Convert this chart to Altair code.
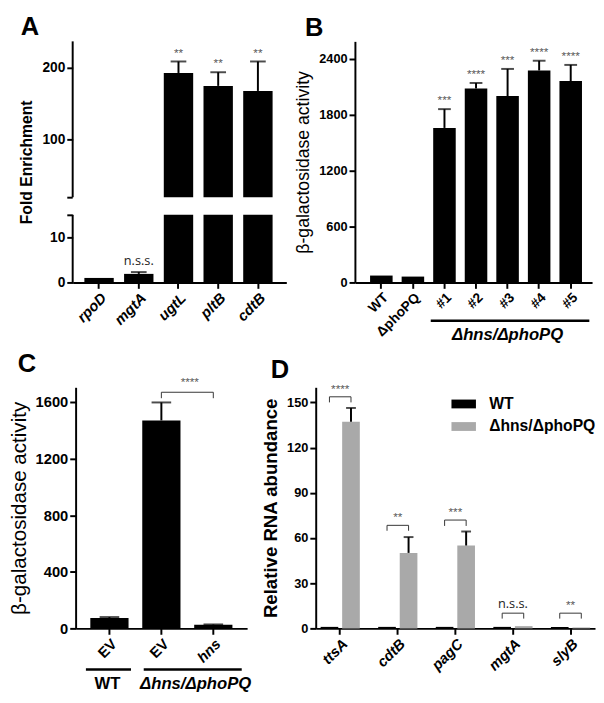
import altair as alt
import pandas as pd

FONT = "Liberation Sans"

# ---------------- Panel A: ChIP fold enrichment (broken axis) ----------------
a_genes = ["rpoD", "mgtA", "ugtL", "pltB", "cdtB"]
a_mean = [1.0, 1.9, 193, 175, 168]
a_upper = [1.0, 2.3, 209, 194, 209]
a_sig = ["", "n.s.s.", "**", "**", "**"]
a_ticks = [0, 10, 15, 20, 100, 200]
a_domain = [0, 15, 20, 237]          # lower segment 0-15, upper segment 20-237
a_seg_lo = [0, 20]
a_seg_hi = [15, 237]

# ---------------- Panel B: beta-gal, suppressor isolates ----------------
b_strains = ["WT", "ΔphoPQ", "#1", "#2", "#3", "#4", "#5"]
b_mean = [74, 63, 1660, 2084, 2003, 2277, 2164]
b_upper = [74, 63, 1862, 2143, 2294, 2382, 2337]
b_sig = ["", "", "***", "****", "***", "****", "****"]
b_ticks = [0, 600, 1200, 1800, 2400]
b_max = 2590
b_group = ["#1", "#5", "#3"]
b_group_label = "Δhns/ΔphoPQ"

# ---------------- Panel C: complementation ----------------
c_keys = ["WT_EV", "DD_EV", "DD_hns"]
c_labels = ["EV", "EV", "hns"]
c_mean = [74, 1470, 25]
c_upper = [80, 1597, 28]
c_ticks = [0, 400, 800, 1200, 1600]
c_max = 1704
c_br_level = 1669
c_br_arm = 1627
c_sig = "****"
c_group_names = ["WT", "Δhns/ΔphoPQ"]

# ---------------- Panel D: qRT-PCR ----------------
d_genes = ["ttsA", "cdtB", "pagC", "mgtA", "slyB"]
d_groups = ["WT", "Δhns/ΔphoPQ"]
d_wt = [1.0, 1.0, 1.0, 1.0, 1.0]
d_mut = [137.1, 50.1, 55.0, 1.5, 0.6]
d_mut_upper = [146.3, 60.6, 64.3, 1.5, 0.6]
d_br_level = [153.7, 68.4, 71.9, 10.1, 10.1]
d_br_arm = [150.0, 64.8, 68.0, 6.5, 6.5]
d_sig = ["****", "**", "***", "n.s.s.", "**"]
d_ticks = [0, 30, 60, 90, 120, 150]
d_max = 160
d_colors = ["black", "#a9a9a9"]

# ---------------- layout sizes ----------------
H = 246
WA, WB, WC, WD = 218, 282, 178, 285
B_SHIFT, C_SHIFT = 40, 3
COL_SP, ROW_SP = 30, 107
LEG_X, LEG_Y = WA + COL_SP + 143, 362   # legend position in grid coordinates

STAR = dict(baseline="bottom", fontSize=12, color="#555555", font=FONT)
NSS = dict(baseline="bottom", fontSize=13, color="#222222", font="Open Sans")


def panel_title(letter, dx):
    return alt.TitleParams(letter, anchor="start", frame="group", dx=dx, fontSize=26,
                           fontWeight="bold", font=FONT, color="black", offset=0)


def lab_expr(keys, labels):
    expr = "''"
    for k, l in zip(keys, labels):
        expr = f"datum.value == '{k}' ? '{l}' : ({expr})"
    return expr


# ======================= Panel A =======================
dfA = pd.DataFrame({"gene": a_genes, "mean": a_mean, "upper": a_upper, "sig": a_sig})
xA_scale = alt.Scale(domain=a_genes, paddingInner=0.26, paddingOuter=0.32, align=0.46)
xA_axis = alt.Axis(title=None, labelAngle=-45, labelFontStyle="italic", labelFontSize=15)
yA_scale = alt.Scale(domain=a_domain, range=[H, H - 69, H - 87, 0], nice=False, zero=False)
yA_axis = alt.Axis(title="Fold Enrichment", values=a_ticks, domain=False, format="d",
                   labelExpr=f"(datum.value == {a_domain[1]} || datum.value == {a_domain[2]}) ? '' : datum.label",
                   labelFontSize=14, titleFontSize=16, titleFontWeight="bold", titlePadding=8)


def xA(f):
    return alt.X(f"{f}:N", scale=xA_scale, axis=xA_axis, title=None)


def yA(f):
    return alt.Y(f"{f}:Q", scale=yA_scale, axis=yA_axis, title="Fold Enrichment")


baseA = alt.Chart(dfA)
errBaseA = baseA.transform_filter("datum.upper > datum.mean")
A = alt.layer(
    baseA.mark_bar(color="black").encode(x=xA("gene"), y=yA("mean")),
    errBaseA.mark_rule(color="black", strokeWidth=2).encode(x=xA("gene"), y=yA("mean"), y2="upper:Q"),
    errBaseA.mark_tick(color="black", thickness=2, size=16).encode(x=xA("gene"), y=yA("upper")),
    baseA.transform_filter("indexof(datum.sig, '*') >= 0").mark_text(dy=-2, **STAR).encode(
        x=xA("gene"), y=yA("upper"), text="sig:N"),
    baseA.transform_filter("datum.sig == 'n.s.s.'").mark_text(dy=-4, **NSS).encode(
        x=xA("gene"), y=yA("upper"), text="sig:N"),
    alt.Chart(pd.DataFrame({"lo": [a_domain[1]], "hi": [a_domain[2]]})).mark_rect(color="white").encode(
        x=alt.value(0), x2=alt.value(WA), y=yA("lo"), y2="hi:Q"),
    alt.Chart(pd.DataFrame({"lo": a_seg_lo, "hi": a_seg_hi})).mark_rule(color="black", strokeWidth=2).encode(
        x=alt.value(0), y=yA("lo"), y2="hi:Q"),
).properties(width=WA, height=H, title=panel_title("A", -53))

# ======================= Panel B =======================
dfB = pd.DataFrame({"strain": b_strains, "mean": b_mean, "upper": b_upper, "sig": b_sig})
xB_scale = alt.Scale(domain=b_strains, range=[B_SHIFT, WB], paddingInner=0.286, paddingOuter=0.4, align=0.6)
xB_axis = alt.Axis(title=None, labelAngle=-45, labelFontSize=14)
yB_scale = alt.Scale(domain=[0, b_max], nice=False, zero=False)
yB_axis = alt.Axis(title="β-galactosidase activity", values=b_ticks, offset=-B_SHIFT, format="d",
                   labelFontSize=13, titleFontSize=18, titleFontWeight="normal", titlePadding=6)


def xB(f):
    return alt.X(f"{f}:N", scale=xB_scale, axis=xB_axis, title=None)


def yB(f):
    return alt.Y(f"{f}:Q", scale=yB_scale, axis=yB_axis, title="β-galactosidase activity")


baseB = alt.Chart(dfB)
errBaseB = baseB.transform_filter("datum.upper > datum.mean")
grpB = pd.DataFrame({"a": [b_group[0]], "b": [b_group[1]], "c": [b_group[2]], "label": [b_group_label]})
B = alt.layer(
    baseB.mark_bar(color="black").encode(x=xB("strain"), y=yB("mean")),
    errBaseB.mark_rule(color="black", strokeWidth=2).encode(x=xB("strain"), y=yB("mean"), y2="upper:Q"),
    errBaseB.mark_tick(color="black", thickness=2, size=13).encode(x=xB("strain"), y=yB("upper")),
    baseB.transform_filter("indexof(datum.sig, '*') >= 0").mark_text(dy=-2, **STAR).encode(
        x=xB("strain"), y=yB("upper"), text="sig:N"),
    alt.Chart(grpB).mark_rule(color="black", strokeWidth=2.5, xOffset=-14, x2Offset=19).encode(
        x=xB("a"), x2="b:N", y=alt.value(H + 39)),
    alt.Chart(grpB).mark_text(font=FONT, fontSize=17, fontWeight="bold", fontStyle="italic",
                              baseline="middle", color="black").encode(
        x=xB("c"), y=alt.value(H + 54), text="label:N"),
).properties(width=WB, height=H, title=panel_title("B", -51 + B_SHIFT))

# ======================= Panel C =======================
dfC = pd.DataFrame({"key": c_keys, "mean": c_mean, "upper": c_upper})
xC_scale = alt.Scale(domain=c_keys, range=[C_SHIFT, WC], paddingInner=0.264, paddingOuter=0.283)
xC_axis = alt.Axis(title=None, labelAngle=-45, labelFontSize=15, labelExpr=lab_expr(c_keys, c_labels),
                   labelFontStyle={"condition": {"test": f"datum.value == '{c_keys[2]}'", "value": "italic"},
                                   "value": "normal"})
yC_scale = alt.Scale(domain=[0, c_max], nice=False, zero=False)
yC_axis = alt.Axis(title="β-galactosidase activity", values=c_ticks, offset=-C_SHIFT, format="d",
                   labelFontSize=15, titleFontSize=21, titleFontWeight="normal", titlePadding=6)


def xC(f):
    return alt.X(f"{f}:N", scale=xC_scale, axis=xC_axis, title=None)


def yC(f):
    return alt.Y(f"{f}:Q", scale=yC_scale, axis=yC_axis, title="β-galactosidase activity")


baseC = alt.Chart(dfC)
errBaseC = baseC.transform_filter("datum.upper > datum.mean")
brC = pd.DataFrame({"k": [c_keys[1], c_keys[1], c_keys[2], c_keys[2]],
                    "v": [c_br_arm, c_br_level, c_br_level, c_br_arm], "o": [0, 1, 2, 3]})
sigC = pd.DataFrame({"k": [c_keys[2]], "v": [c_br_level], "t": [c_sig]})
grpC = pd.DataFrame({"a": [c_keys[0], c_keys[1]], "b": [c_keys[0], c_keys[2]], "name": c_group_names})
C = alt.layer(
    baseC.mark_bar(color="black").encode(x=xC("key"), y=yC("mean")),
    errBaseC.mark_rule(color="black", strokeWidth=2).encode(x=xC("key"), y=yC("mean"), y2="upper:Q"),
    errBaseC.mark_tick(color="black", thickness=2, size=20).encode(x=xC("key"), y=yC("upper")),
    alt.Chart(brC).mark_line(color="#333333", strokeWidth=1).encode(x=xC("k"), y=yC("v"), order="o:Q"),
    alt.Chart(sigC).mark_text(dx=-24, dy=-3, **STAR).encode(x=xC("k"), y=yC("v"), text="t:N"),
    alt.Chart(grpC.iloc[[0]]).mark_rule(color="black", strokeWidth=2.5, xOffset=-24, x2Offset=22).encode(
        x=xC("a"), x2="b:N", y=alt.value(H + 42)),
    alt.Chart(grpC.iloc[[1]]).mark_rule(color="black", strokeWidth=2.5, xOffset=-18, x2Offset=29).encode(
        x=xC("a"), x2="b:N", y=alt.value(H + 42)),
    alt.Chart(grpC.iloc[[0]]).mark_text(font=FONT, fontSize=17, fontWeight="bold", baseline="middle",
                                        color="black", dx=-2).encode(
        x=xC("a"), y=alt.value(H + 57), text="name:N"),
    alt.Chart(grpC.iloc[[1]]).mark_text(font=FONT, fontSize=17, fontWeight="bold", fontStyle="italic",
                                        baseline="middle", color="black", dx=-18).encode(
        x=xC("b"), y=alt.value(H + 57), text="name:N"),
).properties(width=WC, height=H, title=panel_title("C", -59 + C_SHIFT))

# ======================= Panel D =======================
rowsD = []
for g, w, m in zip(d_genes, d_wt, d_mut):
    rowsD.append({"gene": g, "grp": d_groups[0], "val": w})
    rowsD.append({"gene": g, "grp": d_groups[1], "val": m})
dfD = pd.DataFrame(rowsD)
errD = pd.DataFrame({"gene": d_genes, "grp": d_groups[1], "mean": d_mut, "upper": d_mut_upper})
brRows = []
for g, lv, arm in zip(d_genes, d_br_level, d_br_arm):
    brRows += [{"gene": g, "grp": d_groups[0], "v": arm, "o": 0},
               {"gene": g, "grp": d_groups[0], "v": lv, "o": 1},
               {"gene": g, "grp": d_groups[1], "v": lv, "o": 2},
               {"gene": g, "grp": d_groups[1], "v": arm, "o": 3}]
brD = pd.DataFrame(brRows)
sigD = pd.DataFrame({"gene": d_genes, "v": d_br_level, "t": d_sig})

xD_scale = alt.Scale(domain=d_genes, paddingInner=0.319, paddingOuter=0.085)
xD_axis = alt.Axis(title=None, labelAngle=-45, labelFontStyle="italic", labelFontSize=15)
offD_scale = alt.Scale(domain=d_groups, paddingInner=0.18, paddingOuter=0)
yD_scale = alt.Scale(domain=[0, d_max], nice=False, zero=False)
yD_axis = alt.Axis(title="Relative RNA abundance", values=d_ticks, labelFontSize=13,
                   titleFontSize=19, titleFontWeight="bold", titlePadding=6)


def xD(f):
    return alt.X(f"{f}:N", scale=xD_scale, axis=xD_axis, title=None)


def yD(f):
    return alt.Y(f"{f}:Q", scale=yD_scale, axis=yD_axis, title="Relative RNA abundance")


def offD():
    return alt.XOffset("grp:N", scale=offD_scale)


legD = alt.Legend(title=None, orient="none", legendX=LEG_X, legendY=LEG_Y, padding=0,
                  symbolType="M-2,-0.72H2V0.72H-2Z", symbolSize=156, symbolStrokeWidth=0,
                  labelFont=FONT, labelFontSize=16, labelFontWeight="bold", labelColor="black",
                  labelOffset=18, rowPadding=7)

errBaseD = alt.Chart(errD).transform_filter("datum.upper > datum.mean")
D = alt.layer(
    alt.Chart(dfD).mark_bar().encode(
        x=xD("gene"), xOffset=offD(), y=yD("val"),
        color=alt.Color("grp:N", scale=alt.Scale(domain=d_groups, range=d_colors), legend=legD)),
    errBaseD.mark_rule(color="black", strokeWidth=2).encode(x=xD("gene"), xOffset=offD(), y=yD("mean"), y2="upper:Q"),
    errBaseD.mark_tick(color="black", thickness=2, size=10).encode(x=xD("gene"), xOffset=offD(), y=yD("upper")),
    alt.Chart(brD).mark_line(color="#333333", strokeWidth=1).encode(
        x=xD("gene"), xOffset=offD(), y=yD("v"), detail="gene:N", order="o:Q"),
    alt.Chart(sigD).transform_filter("indexof(datum.t, '*') >= 0").mark_text(dy=-1, **STAR).encode(
        x=xD("gene"), y=yD("v"), text="t:N"),
    alt.Chart(sigD).transform_filter("datum.t == 'n.s.s.'").mark_text(dy=-2, **NSS).encode(
        x=xD("gene"), y=yD("v"), text="t:N"),
).properties(width=WD, height=H, title=panel_title("D", -46))

chart = alt.concat(A, B, C, D, columns=2, spacing={"column": COL_SP, "row": ROW_SP},
                   bounds="flush", align="each").properties(
    padding={"left": 0, "top": 0, "right": 0, "bottom": 0}
).configure_view(stroke=None).configure_axis(
    domainColor="black", domainWidth=2, tickColor="black", tickWidth=2, tickSize=6,
    labelColor="black", labelFont=FONT, labelFontWeight="bold", labelPadding=2,
    titleFont=FONT, titleColor="black", grid=False
)

chart.save("out.html", embed_options={"renderer": "svg", "actions": False})
